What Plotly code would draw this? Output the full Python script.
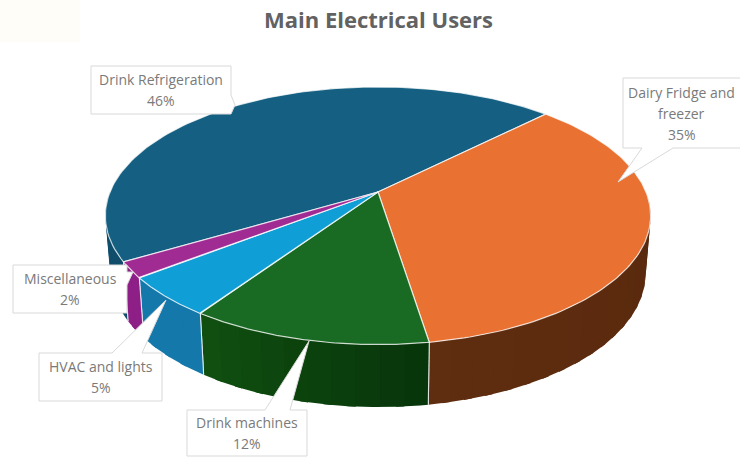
import numpy as np
import plotly.graph_objects as go

categories = ["Drink Refrigeration", "Dairy Fridge and<br>freezer", "Drink machines", "HVAC and lights", "Miscellaneous"]
values = [46, 35, 12, 5, 2]
top_colors = ["#156082", "#E97132", "#196B24", "#0F9ED5", "#A02B93"]
wall_left = ["#0f4d6b", "#5f2d10", "#114f10", "#1478AB", "#8E1F87"]
wall_right = ["#0f4d6b", "#5a2a0e", "#07360b", "#1478AB", "#8E1F87"]

K = -0.184
TOP = dict(A=268.0, B=124.5, y0=192.0)
BOT = dict(A=263.0, B=129.0, y0=249.0)
CX = 378.0
FIRST_END = 45.0  # clockwise from the back of the pie: where the first slice ends


def project(deg, rim):
    t = np.radians(deg)
    u, v = np.sin(t), -np.cos(t)
    den = 1 + K * v
    return CX + rim["A"] * u / den, rim["y0"] + rim["B"] * v / den


def hexrgb(h):
    return np.array([int(h[i:i + 2], 16) for i in (1, 3, 5)], float)


def mix(a, b, f):
    c = hexrgb(a) * (1 - f) + hexrgb(b) * f
    return "rgb(%d,%d,%d)" % tuple(c)


edges = np.cumsum([0] + values) * 3.6
edges = edges + (FIRST_END - edges[1])

fig = go.Figure()
RIM = "rgba(255,255,255,0.75)"

shapes = [dict(type="rect", x0=0, x1=80, y0=0, y1=42, fillcolor="#fffdf8", line_width=0, layer="below")]

# side walls: only the front half can be seen
for i in range(len(values)):
    a0, a1 = edges[i], edges[i + 1]
    for shift in (0, 360, -360):
        lo, hi = max(a0 + shift, 90), min(a1 + shift, 270)
        if hi <= lo:
            continue
        steps = max(2, int((hi - lo) / 4))
        grid = np.linspace(lo, hi, steps + 1)
        for j in range(steps):
            seg = np.linspace(grid[j], min(grid[j + 1] + 1.5, hi), 5)
            xt, yt = project(seg, TOP)
            xb, yb = project(seg[::-1], BOT)
            col = mix(wall_right[i], wall_left[i], j / max(1, steps - 1))
            fig.add_trace(go.Scatter(x=np.r_[xt, xb], y=np.r_[yt, yb], mode="lines", fill="toself",
                                     fillcolor=col, line=dict(width=0),
                                     hoverinfo="skip", showlegend=False))
        for e in (lo, hi):
            if 95 < e < 265:
                xe = [project(e, TOP)[0], project(e, BOT)[0]]
                ye = [project(e, TOP)[1], project(e, BOT)[1]]
                fig.add_trace(go.Scatter(x=xe, y=ye, mode="lines", line=dict(color=RIM, width=1.1),
                                         hoverinfo="skip", showlegend=False))

# top face
for i in range(len(values)):
    seg = np.linspace(edges[i], edges[i + 1], 120)
    xs, ys = project(seg, TOP)
    fig.add_trace(go.Scatter(x=np.r_[CX, xs, CX], y=np.r_[TOP["y0"], ys, TOP["y0"]], mode="lines", fill="toself",
                             fillcolor=top_colors[i], line=dict(color=RIM, width=1.2),
                             name=categories[i].replace("<br>", " "), text=f"{values[i]}%",
                             hoverinfo="name+text", showlegend=False))


def callout(x0, y0, x1, y1, edge, t0, t1, tip):
    """Rectangle with a wedge tail leaving from its top/bottom/right edge."""
    if edge == "bottom":
        pts = [(x0, y0), (x1, y0), (x1, y1), (max(t0, t1), y1), tip, (min(t0, t1), y1), (x0, y1)]
    elif edge == "top":
        pts = [(x0, y0), (min(t0, t1), y0), tip, (max(t0, t1), y0), (x1, y0), (x1, y1), (x0, y1)]
    else:
        pts = [(x0, y0), (x1, y0), (x1, min(t0, t1)), tip, (x1, max(t0, t1)), (x1, y1), (x0, y1)]
    return "M " + " L ".join(f"{a},{b}" for a, b in pts) + " Z"


labels = [
    (91, 66, 231, 114, "right", 95, 114, (235, 105)),
    (623, 78, 741, 148, "bottom", 642, 673, (618, 182)),
    (187, 410, 307, 456, "top", 265, 290, (309, 341)),
    (39, 353, 162, 401, "top", 112, 142, (166, 300)),
    (13, 265, 127, 313, "right", 272, 285, (133, 272)),
]
LINE_GAP = 21
annotations = []
for i, (x0, y0, x1, y1, edge, t0, t1, tip) in enumerate(labels):
    shapes.append(dict(type="path", path=callout(x0, y0, x1, y1, edge, t0, t1, tip), xref="x", yref="y",
                       fillcolor="white", line=dict(color="#d9d9d9", width=1), layer="above"))
    lines = categories[i].split("<br>") + [f"{values[i]}%"]
    for n, line in enumerate(lines):
        annotations.append(dict(x=(x0 + min(x1, 740)) / 2, y=(y0 + y1) / 2 + (n - (len(lines) - 1) / 2) * LINE_GAP,
                                xref="x", yref="y", showarrow=False, text=line,
                                font=dict(family="Open Sans", size=14, color="#7a7a7a")))
annotations.append(dict(x=378, y=19, xref="x", yref="y", showarrow=False, text="<b>Main Electrical Users</b>",
                        font=dict(family="Open Sans", size=22, color="#626262")))

fig.update_layout(width=740, height=458, margin=dict(l=0, r=0, t=0, b=0), plot_bgcolor="white", paper_bgcolor="white",
                  xaxis=dict(range=[0, 740], visible=False, fixedrange=True),
                  yaxis=dict(range=[458, 0], visible=False, fixedrange=True),
                  shapes=shapes, annotations=annotations, showlegend=False)
fig.write_html("out.html", config=dict(displayModeBar=False),
               post_script="document.body.style.margin='0';document.documentElement.style.overflow='hidden';")
